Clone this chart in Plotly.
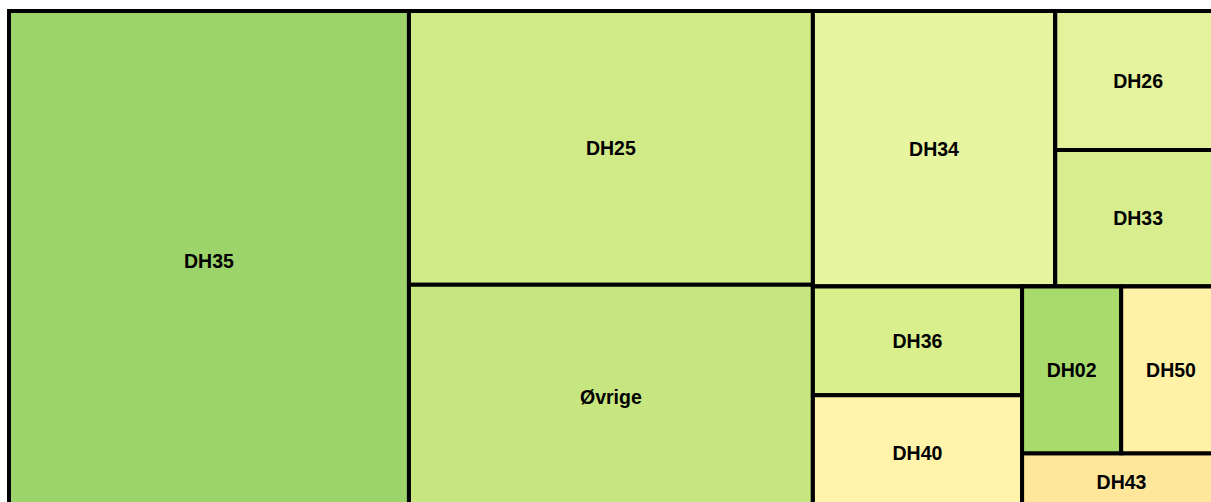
import plotly.graph_objects as go

# Leaf categories, their relative sizes (share of total, %) and fill colours
leaf_labels = ["DH35", "DH25", "Øvrige", "DH34", "DH26", "DH33", "DH36", "DH40", "DH02", "DH50", "DH43"]
leaf_values = [33.0, 18.28, 15.05, 11.04, 3.81, 3.74, 3.76, 3.97, 2.73, 2.75, 1.87]
leaf_colors = ["#9cd46b", "#d1ea88", "#c7e680", "#e8f5a0", "#e4f29c", "#d8ee8e",
               "#d9ef8b", "#fff4aa", "#a9da6c", "#fff1a6", "#fee79b"]
leaf_groups = ["root", "g1", "g1", "g2a", "g2a2", "g2a2", "g2b1", "g2b1", "g2b2a", "g2b2a", "g2b2"]

# Hidden grouping nodes that reproduce the tiling of the original chart
group_ids = ["root", "g1", "g2", "g2a", "g2a2", "g2b", "g2b1", "g2b2", "g2b2a"]
group_parents = ["", "root", "root", "g2", "g2a", "g2", "g2b", "g2b", "g2b2"]

# sibling order (root first)
node_order = ["root", "DH35", "g1", "DH25", "Øvrige", "g2", "g2a", "DH34", "g2a2", "DH26", "DH33",
              "g2b", "g2b1", "DH36", "DH40", "g2b2", "g2b2a", "DH02", "DH50", "DH43"]

ids, labels, parents, values, colors, templates = [], [], [], [], [], []
for n in node_order:
    if n in group_ids:
        i = group_ids.index(n)
        ids.append(n); labels.append(""); parents.append(group_parents[i])
        values.append(0); colors.append("#ffffff"); templates.append("")
    else:
        i = leaf_labels.index(n)
        ids.append(n); labels.append(n); parents.append(leaf_groups[i])
        values.append(leaf_values[i]); colors.append(leaf_colors[i]); templates.append("%{label}")

fig = go.Figure(go.Treemap(
    ids=ids, labels=labels, parents=parents, values=values,
    branchvalues="remainder", sort=False,
    tiling=dict(packing="slice-dice", pad=0),
    marker=dict(colors=colors, line=dict(color="#000000", width=4),
                pad=dict(t=0, l=0, r=0, b=0)),
    pathbar=dict(visible=False),
    texttemplate=templates,
    textposition="middle center",
    textfont=dict(family="Liberation Sans, Arial, sans-serif", size=19.5, color="#000000", weight="bold"),
    hoverinfo="label+value",
))

fig.update_layout(
    width=1231, height=520,
    margin=dict(l=9, r=10, t=11, b=10),
    paper_bgcolor="#ffffff",
    showlegend=False,
)

fig.write_html("out.html", config={"displayModeBar": False},
               post_script="document.body.style.margin='0';document.body.style.overflow='hidden';")
